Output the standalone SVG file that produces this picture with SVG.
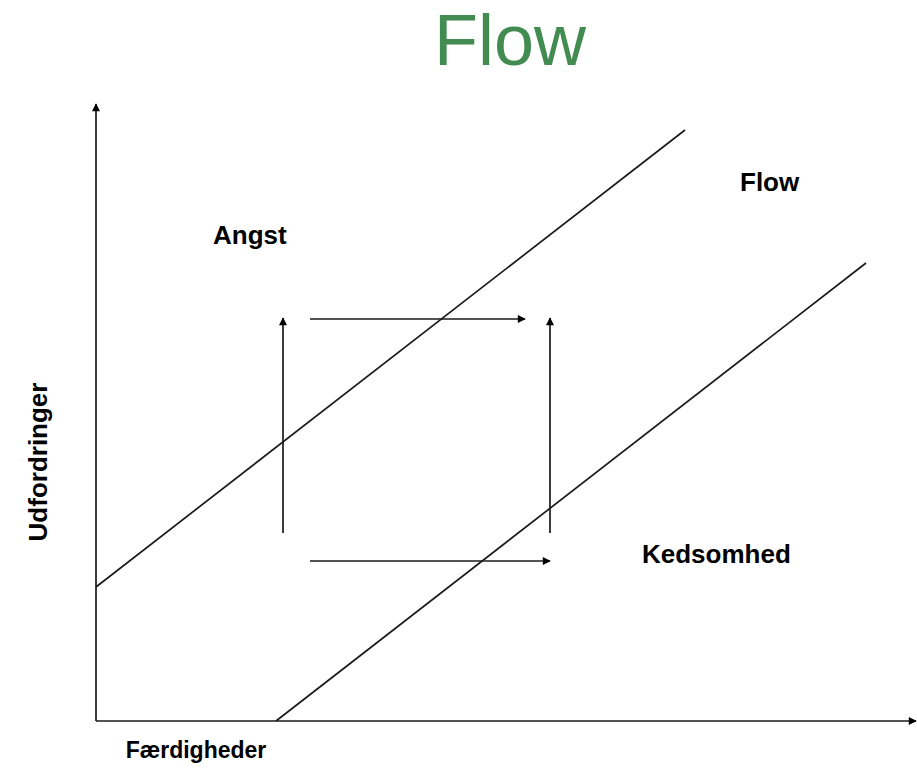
<svg xmlns="http://www.w3.org/2000/svg" width="917" height="783" viewBox="0 0 917 783">
<defs>
<style>
.ln{stroke:#1a1a1a;stroke-width:1.7;fill:none}
.ar{stroke:#1a1a1a;stroke-width:1.7;fill:none;marker-end:url(#ah)}
.lbl{font-family:"Liberation Sans",Arial,sans-serif;font-weight:bold;fill:#000}
</style>
<marker id="ah" viewBox="0 0 10 10" refX="9" refY="5" markerWidth="9" markerHeight="8" orient="auto" markerUnits="userSpaceOnUse">
<path d="M0,0 L10,5 L0,10 z" fill="#000"/>
</marker>
<marker id="ahb" viewBox="0 0 10 10" refX="9" refY="5" markerWidth="9" markerHeight="8" orient="auto" markerUnits="userSpaceOnUse">
<path d="M0,0 L10,5 L0,10 z" fill="#000"/>
</marker>
</defs>
<rect width="917" height="783" fill="#fff"/>
<g id="title"><text x="510" y="65" text-anchor="middle" font-family="Liberation Sans,Arial,sans-serif" font-size="72" fill="#428c52">Flow</text></g>
<g id="axes">
<line x1="96" y1="721" x2="96" y2="104" class="ln" marker-end="url(#ahb)"/>
<line x1="96" y1="721" x2="916" y2="721" class="ln" marker-end="url(#ahb)"/>
</g>
<g id="connectors">
<line id="line-upper" x1="96" y1="587" x2="685" y2="130" class="ln"/>
<line id="line-lower" x1="276" y1="721" x2="866" y2="263" class="ln"/>
<line x1="283" y1="533" x2="283" y2="318" class="ar"/>
<line x1="550" y1="533" x2="550" y2="318" class="ar"/>
<line x1="310" y1="319" x2="525" y2="319" class="ar"/>
<line x1="310" y1="561" x2="550" y2="561" class="ar"/>
</g>
<g id="node-angst"><text x="213" y="244" class="lbl" font-size="26">Angst</text></g>
<g id="node-flow"><text x="740" y="191" class="lbl" font-size="26">Flow</text></g>
<g id="node-kedsomhed"><text x="642" y="563" class="lbl" font-size="26">Kedsomhed</text></g>
<g id="label-x"><text x="196" y="758" text-anchor="middle" class="lbl" font-size="23">Færdigheder</text></g>
<g id="label-y"><text transform="translate(47,462) rotate(-90)" text-anchor="middle" class="lbl" font-size="26">Udfordringer</text></g>
</svg>
